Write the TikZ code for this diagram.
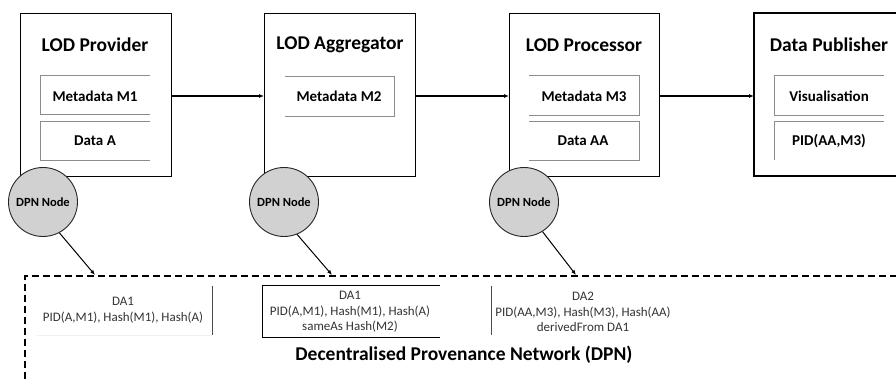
\documentclass[tikz,border=0pt]{standalone}
\usepackage{fontspec}
\setmainfont{Carlito}
\usetikzlibrary{arrows.meta}
\begin{document}
\begin{tikzpicture}[x=1pt,y=-1pt,
  mainbox/.style={draw=black,line width=1.4pt,fill=white},
  innerline/.style={draw=black!45,line width=0.9pt},
  head/.style={font=\fontsize{19.5}{22}\selectfont\bfseries},
  inner/.style={font=\fontsize{15}{17}\selectfont\bfseries},
  dpn/.style={circle,draw=black!85,line width=0.9pt,fill=black!18,minimum size=69pt,inner sep=0pt,font=\fontsize{12.5}{14}\selectfont\bfseries},
  small/.style={align=center,font=\fontsize{13}{15.5}\selectfont,text=black!80},
  flow/.style={line width=1.2pt,-{Latex[length=5pt,width=4pt]}},
  link/.style={line width=1pt,-{Latex[length=5pt,width=4pt]}},
  dashline/.style={line width=1.2pt,dash pattern=on 7pt off 4pt}]
\useasboundingbox (0,0) rectangle (896,379);
% main boxes
\node[mainbox,minimum width=151pt,minimum height=163pt,anchor=north west] (prov) at (20,13) {};
\node[mainbox,minimum width=151pt,minimum height=163pt,anchor=north west] (aggr) at (264,13) {};
\node[mainbox,minimum width=150pt,minimum height=163pt,anchor=north west] (proc) at (509,13) {};
\draw[line width=1.4pt,fill=white] (900,13) -- (754,13) -- (754,176) -- (900,176);
\coordinate (pubW) at (754,96);
% headers
\node[head] (hprov) at (95,45) {LOD Provider};
\node[head] (haggr) at (340,45) {LOD Aggregator};
\node[head] (hproc) at (584,45) {LOD Processor};
\node[head] (hpub) at (829,45) {Data Publisher};
% inner boxes
\draw[innerline] (150,75) -- (40,75) -- (40,114) -- (150,114);
\draw[innerline] (150,121) -- (40,121) -- (40,160) -- (150,160);
\draw[innerline] (285,76) -- (394,76) -- (394,116) -- (285,116);
\draw[innerline] (529,75) -- (639,75) -- (639,115) -- (529,115);
\draw[innerline] (529,121) -- (639,121) -- (639,160) -- (529,160);
\draw[innerline] (884,75) -- (774,75) -- (774,115) -- (884,115);
\draw[innerline] (884,121) -- (774,121) -- (774,160);
\node[inner] (m1) at (95,96) {Metadata M1};
\node[inner] (da) at (95,141) {Data A};
\node[inner] (m2) at (339,96) {Metadata M2};
\node[inner] (m3) at (584,96) {Metadata M3};
\node[inner] (daa) at (583,141) {Data AA};
\node[inner] (vis) at (829,96) {Visualisation};
\node[inner] (pid) at (829,141) {PID(AA,M3)};
% flow arrows
\draw[flow] (prov.east |- 0,96) -- (aggr.west |- 0,96);
\draw[flow] (aggr.east |- 0,96) -- (proc.west |- 0,96);
\draw[flow] (proc.east |- 0,96) -- (pubW);
% DPN dashed area
\draw[dashline] (25,379) -- (25,276) -- (896,276);
\coordinate (t1) at (95,275);
\coordinate (t2) at (332,275);
\coordinate (t3) at (576,275);
% DPN nodes
\node[dpn] (n1) at (43,202) {DPN Node};
\node[dpn] (n2) at (284,202) {DPN Node};
\node[dpn] (n3) at (524,202) {DPN Node};
\draw[link] (n1.-62) -- (t1);
\draw[link] (n2.-68) -- (t2);
\draw[link] (n3.-58) -- (t3);
% blocks
\draw[line width=0.9pt,draw=black!70] (212,286) -- (212,335);
\draw[line width=0.5pt,draw=black!6] (37,335) -- (212,335);
\node[small] (b1) at (123,310) {DA1\\PID(A,M1), Hash(M1), Hash(A)};
\draw[line width=0.9pt] (440,285) -- (262,285) -- (262,337) -- (440,337);
\node[small] (b2) at (350,312) {DA1\\PID(A,M1), Hash(M1), Hash(A)\\sameAs Hash(M2)};
\draw[line width=0.9pt,draw=black!70] (491,286) -- (491,335);
\node[small] (b3) at (583,312) {DA2\\PID(AA,M3), Hash(M3), Hash(AA)\\derivedFrom DA1};
\node[font=\fontsize{19.5}{22}\selectfont\bfseries] (title) at (464,355) {Decentralised Provenance Network (DPN)};
\end{tikzpicture}
\end{document}
